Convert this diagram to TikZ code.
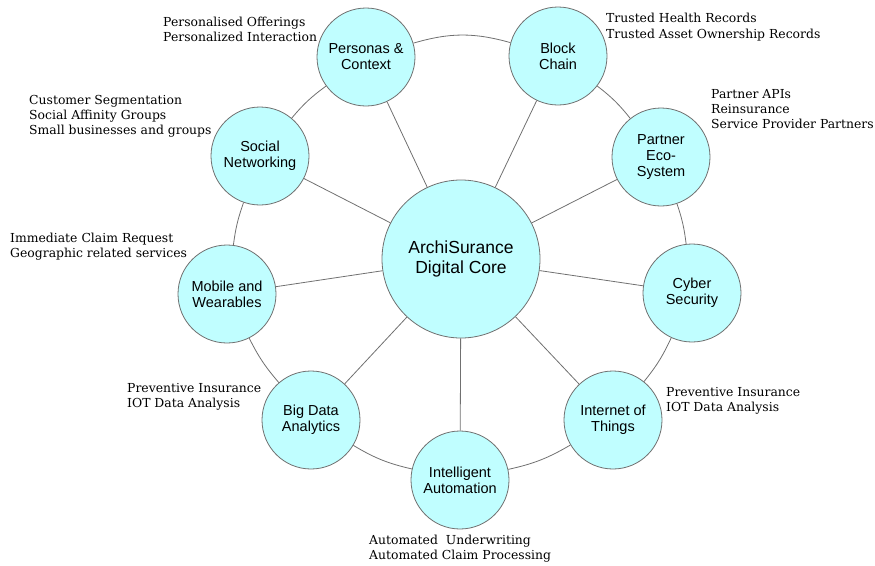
\documentclass[tikz,border=0pt]{standalone}
\usepackage{fontspec}
\setmainfont{DejaVu Serif}
\setsansfont{Liberation Sans}
\usepackage{tikz}
\usetikzlibrary{positioning,calc}

\definecolor{hubfill}{RGB}{192,254,255}
\definecolor{hubline}{RGB}{112,112,112}

\begin{document}
\begin{tikzpicture}[x=1pt, y=-1pt,
  hub/.style={circle, draw=hubline, line width=0.8pt, fill=hubfill, inner sep=0pt,
    minimum size=98pt, align=center, font=\sffamily\fontsize{14.5}{16}\selectfont},
  core/.style={hub, minimum size=158pt, font=\sffamily\fontsize{17.5}{20}\selectfont},
  spoke/.style={draw=hubline, line width=0.8pt},
  note/.style={anchor=west, align=left, inner sep=0pt, font=\fontsize{12.4}{15.2}\selectfont}]

\useasboundingbox (0,0) rectangle (875,565);

% Digital core in the middle
\node[core] (core) at (461,259) {ArchiSurance\\Digital Core};

% Capability circles round the ring
\node[hub] (personas)   at (366,57)  {Personas \&\\Context};
\node[hub] (block)      at (558,56)  {Block\\Chain};
\node[hub] (partner)    at (661,157) {Partner\\Eco-\\System};
\node[hub] (cyber)      at (692,293) {Cyber\\Security};
\node[hub] (iot)        at (613,420) {Internet of\\Things};
\node[hub] (automation) at (460,480) {Intelligent\\Automation};
\node[hub] (bigdata)    at (311,420) {Big Data\\Analytics};
\node[hub] (mobile)     at (227,294) {Mobile and\\Wearables};
\node[hub] (social)     at (260,156) {Social\\Networking};

% Ring between neighbours (bend = half the gap minus the part hidden by the circles)
\foreach \a/\b/\bend in {personas/block/16, block/partner/7, partner/cyber/6,
    cyber/iot/7, iot/automation/9, automation/bigdata/9, bigdata/mobile/7,
    mobile/social/6, social/personas/7} {
  \draw[spoke] (\a) to[bend left=\bend] (\b);
}

% Spokes from the core
\foreach \n in {personas, block, partner, cyber, iot, automation, bigdata, mobile, social} {
  \draw[spoke] (core) -- (\n);
}

% Notes beside the circles
\node[note] (personasnote)   at (163,29)  {Personalised Offerings\\Personalized Interaction};
\node[note] (blocknote)      at (606,27)  {Trusted Health Records\\Trusted Asset Ownership Records};
\node[note] (partnernote)    at (711,109) {Partner APIs\\Reinsurance\\Service Provider Partners};
\node[note] (socialnote)     at (29,116)  {Customer Segmentation\\Social Affinity Groups\\Small businesses and groups};
\node[note] (mobilenote)     at (10,247)  {Immediate Claim Request\\Geographic related services};
\node[note] (bigdatanote)    at (127,397) {Preventive Insurance\\IOT Data Analysis};
\node[note] (iotnote)        at (666,401) {Preventive Insurance\\IOT Data Analysis};
\node[note] (automationnote) at (369,549) {Automated\ \ Underwriting\\Automated Claim Processing};

\end{tikzpicture}
\end{document}
